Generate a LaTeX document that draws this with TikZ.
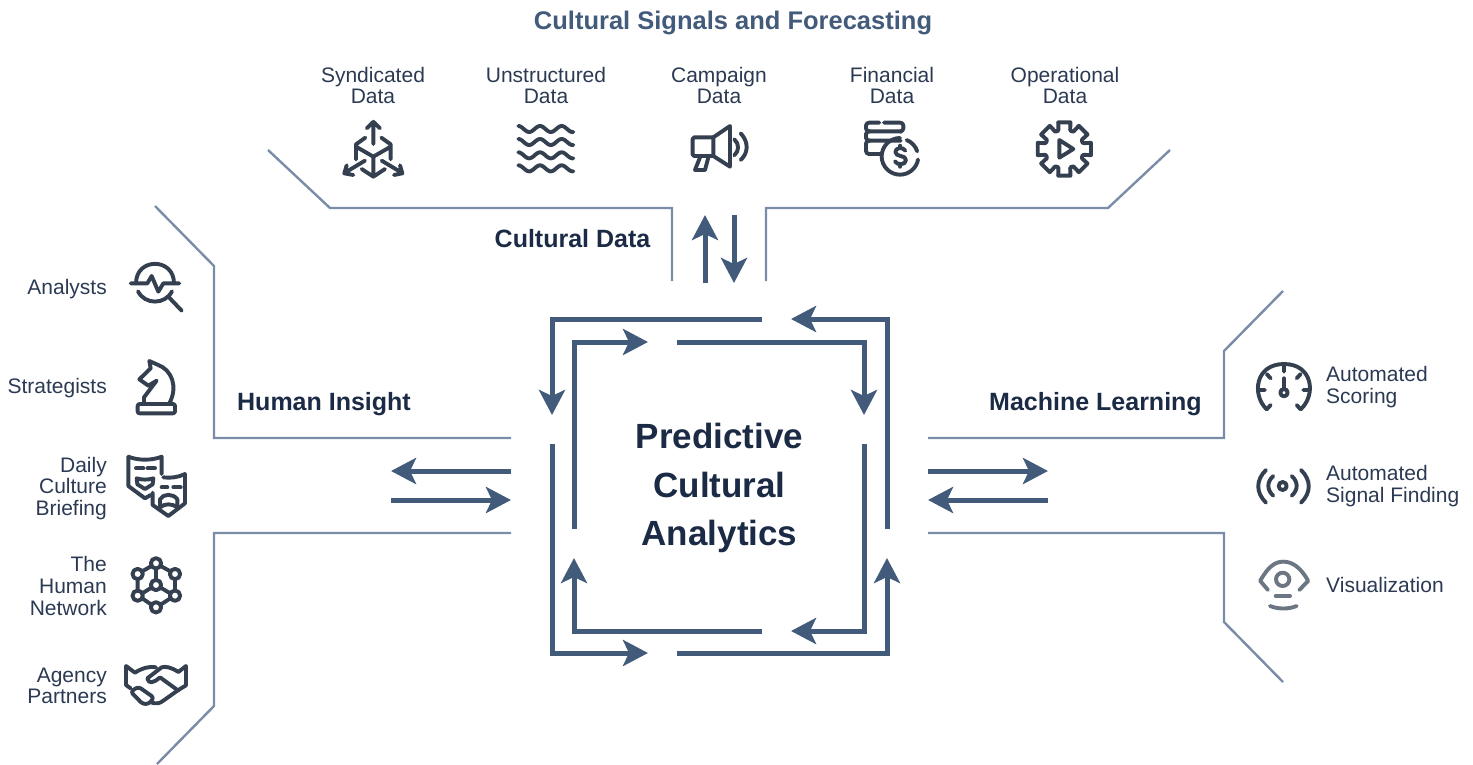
\documentclass[tikz,border=0pt]{standalone}
\usepackage{fontspec}
\setmainfont{Liberation Sans}
\usetikzlibrary{arrows.meta}
\definecolor{flow}{HTML}{425B7A}
\definecolor{frame}{HTML}{7A8CA8}
\definecolor{ink}{HTML}{1B2A45}
\definecolor{body}{HTML}{2B3A52}
\definecolor{iconc}{HTML}{343F4F}
\definecolor{iconl}{HTML}{6C7683}
\tikzset{
  x=1pt,y=-1pt,
  flowline/.style={draw=flow,line width=5pt,line join=miter,-{Stealth[length=25pt,width=26pt,inset=6pt]}},
  frameline/.style={draw=frame,line width=2.4pt,line join=miter},
  lab/.style={inner sep=0pt,text=body,font=\fontsize{21}{21.6}\selectfont},
  labc/.style={lab,align=center},
  labr/.style={lab,align=right,anchor=east},
  labl/.style={lab,align=left,anchor=west},
  head/.style={inner sep=0pt,text=ink,font=\fontsize{25}{28}\selectfont\bfseries},
  ic/.style={draw=iconc,line width=3.9pt,line cap=round,line join=round,fill=none},
  il/.style={draw=iconl,line width=3.9pt,line cap=round,line join=round,fill=none},
}
\begin{document}
\begin{tikzpicture}
\useasboundingbox (0,0) rectangle (1473,764);
% text
\node[head,text=flow,font=\fontsize{25.5}{28}\selectfont\bfseries] (title) at (733,22.5) {Cultural Signals and Forecasting};
\node[labc] (syn) at (373,85.5) {Syndicated\\Data};
\node[labc] (uns) at (546,85.5) {Unstructured\\Data};
\node[labc] (cam) at (719,85.5) {Campaign\\Data};
\node[labc] (fin) at (892,85.5) {Financial\\Data};
\node[labc] (ope) at (1065,85.5) {Operational\\Data};
\node[head] (cd) at (572.5,239) {Cultural Data};
\node[head] (hi) at (324,404.5) {Human Insight};
\node[head] (ml) at (1095.5,404.5) {Machine Learning};
\node[inner sep=0pt,text=ink,align=center,font=\fontsize{35}{48.5}\selectfont\bfseries] (core) at (719.5,488) {Predictive\\Cultural\\Analytics};
\node[labr] (an) at (107,289) {Analysts};
\node[labr] (st) at (107,388) {Strategists};
\node[labr] (da) at (107,488.5) {Daily\\Culture\\Briefing};
\node[labr] (hn) at (107,586) {The\\Human\\Network};
\node[labr] (ap) at (107,686) {Agency\\Partners};
\node[labl] (as) at (1326,387) {Automated\\Scoring};
\node[labl] (af) at (1326,486) {Automated\\Signal Finding};
\node[labl] (vi) at (1326,585) {Visualization};
% named points
\foreach \n/\px/\py in {
 a1/762/319,a2/552/319,a3/552/415, b1/574/529,b2/574/342,b3/648/342,
 c1/677/342,c2/864/342,c3/864/415, d1/887/529,d2/887/319,d3/791/319,
 e1/864/444,e2/864/631,e3/791/631, f1/552/444,f2/552/653,f3/648/653,
 g1/762/631,g2/574/631,g3/574/558, h1/677/653,h2/887/653,h3/887/558,
 u1/705/283,u2/705/215,v1/734/215,v2/734/283,
 l1/511/471,l2/391/471,m1/391/500,m2/511/500,
 r1/928/471,r2/1048/471,s1/1048/500,s2/928/500,
 t1/268/150,t2/330/208,t3/672/208,t4/672/281,
 w1/1170/150,w2/1108/208,w3/766/208,w4/766/281,
 p1/155/206,p2/214/266,p3/214/438,p4/511/438,
 q1/157/764,q2/214/706,q3/214/533,q4/511/533,
 x1/1283/291,x2/1224/351,x3/1224/438,x4/928/438,
 y1/1283/682,y2/1224/622,y3/1224/533,y4/928/533}
 {\coordinate (\n) at (\px,\py);}
% frames
\draw[frameline] (t1)--(t2)--(t3)--(t4);
\draw[frameline] (w1)--(w2)--(w3)--(w4);
\draw[frameline] (p1)--(p2)--(p3)--(p4);
\draw[frameline] (q1)--(q2)--(q3)--(q4);
\draw[frameline] (x1)--(x2)--(x3)--(x4);
\draw[frameline] (y1)--(y2)--(y3)--(y4);
% flows
\draw[flowline] (a1)--(a2)--(a3);
\draw[flowline] (b1)--(b2)--(b3);
\draw[flowline] (c1)--(c2)--(c3);
\draw[flowline] (d1)--(d2)--(d3);
\draw[flowline] (e1)--(e2)--(e3);
\draw[flowline] (f1)--(f2)--(f3);
\draw[flowline] (g1)--(g2)--(g3);
\draw[flowline] (h1)--(h2)--(h3);
\draw[flowline] (u1)--(u2);
\draw[flowline] (v1)--(v2);
\draw[flowline] (l1)--(l2);
\draw[flowline] (m1)--(m2);
\draw[flowline] (r1)--(r2);
\draw[flowline] (s1)--(s2);
% cube + waves
\begin{scope}[shift={(300,100)},scale=1/3]
\draw[ic] (220,132)--(220,65) (200,85)--(220,65)--(240,85);
\draw[ic] (196,113)--(168,133)--(168,178) (168,140)--(220,170)--(272,140) (244,113)--(272,133)--(272,178);
\draw[ic] (220,170)--(220,230) (185,207)--(220,230)--(255,207);
\draw[ic] (195,182)--(135,218) (140,196)--(133,220)--(160,225);
\draw[ic] (245,182)--(305,218) (300,196)--(307,220)--(282,225);
\foreach \c in {87,126,166,205}
  \draw[ic] plot[domain=0:165,samples=60,smooth] ({655+\x},{\c-9*cos(5.538*\x)});
\end{scope}
% megaphone, coins, gear
\begin{scope}[shift={(650,100)},scale=1/3]
\draw[ic,rounded corners=1.5pt] (190,112)--(128,112)--(128,168)--(190,168);
\draw[ic] (190,112)--(240,78)--(240,200)--(190,168)--cycle;
\draw[ic] (150,172)--(135,210)--(165,210)--(175,172);
\draw[ic] (253,118) .. controls (268,132) and (268,152) .. (253,166);
\draw[ic] (272,100) .. controls (296,125) and (296,158) .. (272,180);
% coins
\draw[ic,rounded corners=3pt] (688,68)--(648,68)--(648,94)--(755,94);
\draw[ic,rounded corners=3pt] (702,68)--(760,68)--(760,94)--(755,94);
\draw[ic,rounded corners=3pt] (660,94)--(648,94)--(648,122)--(752,122);
\draw[ic,rounded corners=3pt] (660,122)--(648,122)--(648,162)--(695,162);
\draw[ic] (750,114) arc[start angle=-90,end angle=-350,radius=55];
\draw[ic] (770,120) arc[start angle=-68,end angle=-18,radius=55];
\draw[ic] (766,152) .. controls (760,140) and (736,142) .. (736,156) .. controls (736,172) and (768,164) .. (768,180) .. controls (768,196) and (740,196) .. (735,184);
\draw[ic] (751,137)--(751,143) (751,194)--(751,200);
% gear
\begin{scope}[shift={(1243,147)}]
\foreach \t in {0,45,...,315}
  \draw[ic] (\t-22.5:57)--(\t-17:60)--(\t-13:82)--(\t+13:82)--(\t+17:60)--(\t+22.5:57);
\end{scope}
\draw[ic] (1228,120)--(1270,147)--(1228,173)--cycle;
\end{scope}
% left icons
\begin{scope}[shift={(110,250)},scale=1/3]
\draw[ic] (78,100) .. controls (78,22) and (192,22) .. (192,100);
\draw[ic] (62,100)--(112,100)--(125,78)--(145,125)--(160,100)--(208,100);
\draw[ic] (84,124) .. controls (105,165) and (165,165) .. (186,124);
\draw[ic] (175,140)--(215,182);
% knight
\draw[ic,rounded corners=2pt] (83,462) rectangle (195,490);
\draw[ic] (102,460)--(102,442)--(140,392)--(115,407)--(88,388)--(122,355)--(118,333)--(145,345) .. controls (185,360) and (205,410) .. (178,460);
% masks
\draw[ic] (55,620) .. controls (85,632) and (125,632) .. (155,620)--(155,672);
\draw[ic] (122,735)--(105,745)--(55,708)--(55,620);
\draw[ic] (78,655)--(100,655) (113,655)--(135,655);
\draw[ic] (80,685) .. controls (95,690) and (115,690) .. (130,685)--(128,703)--(105,717)--(82,703)--cycle;
\draw[ic] (160,682) .. controls (180,685) and (205,682) .. (225,672)--(225,760)--(175,798)--(128,765)--(128,728);
\draw[ic] (155,712)--(172,712) (190,712)--(212,712);
\draw[ic] (150,772)--(150,748) .. controls (160,730) and (190,730) .. (202,748)--(202,772) .. controls (185,760) and (165,760) .. (150,772);
\end{scope}
\begin{scope}[shift={(110,530)},scale=1/3]
\foreach \a/\b in {138/100,83/132,195/132,83/197,195/197,138/232,138/165}
  \draw[ic] (\a,\b) circle[radius=15.5];
\draw[ic] (138,116)--(138,150) (83,148)--(83,181) (195,148)--(195,181)
  (124,173)--(97,190) (152,173)--(181,190)
  (124,108)--(97,124) (152,108)--(181,124)
  (97,205)--(124,224) (181,205)--(152,224);
% handshake
\draw[ic] (228,408)--(205,426) .. controls (185,412) and (165,408) .. (155,412)--(112,445) .. controls (115,462) and (130,460) .. (150,442)--(205,482);
\draw[ic] (228,408)--(228,466)--(205,480)--(160,512) .. controls (150,520) and (140,522) .. (125,518);
\draw[ic] (48,408)--(75,428) .. controls (95,415) and (115,408) .. (138,412);
\draw[ic] (48,408)--(48,465)--(62,475);
\draw[ic,rounded corners=3pt] (62,485)--(85,470)--(132,503)--(116,522)--(98,522)--cycle;
\end{scope}
% right icons
\begin{scope}[shift={(1240,350)},scale=1/3]
\draw[ic] (80,178) .. controls (35,135) and (45,42) .. (132,42) .. controls (219,42) and (229,135) .. (182,178);
\draw[ic] (132,42)--(132,65) (55,120)--(75,120) (190,120)--(210,120) (80,72)--(92,85) (182,72)--(170,85) (80,178)--(92,165) (182,178)--(170,165);
\draw[ic] (132,85)--(132,116);
\draw[ic] (132,128) circle[radius=11];
\draw[ic] (128,408) circle[radius=12];
\draw[ic] (100,378) .. controls (80,395) and (80,420) .. (100,437);
\draw[ic] (155,378) .. controls (175,395) and (175,420) .. (155,437);
\draw[ic] (78,360) .. controls (47,390) and (47,428) .. (78,458);
\draw[ic] (183,360) .. controls (214,390) and (214,428) .. (183,458);
\draw[il] (62,690) .. controls (85,650) and (105,635) .. (130,635) .. controls (155,635) and (180,650) .. (203,690);
\draw[il] (60,692)--(84,720) (205,692)--(178,720);
\draw[il] (128,688) circle[radius=20];
\draw[il] (107,738)--(150,738);
\draw[il] (90,768) .. controls (115,778) and (145,778) .. (170,768);
\end{scope}
\end{tikzpicture}
\end{document}
